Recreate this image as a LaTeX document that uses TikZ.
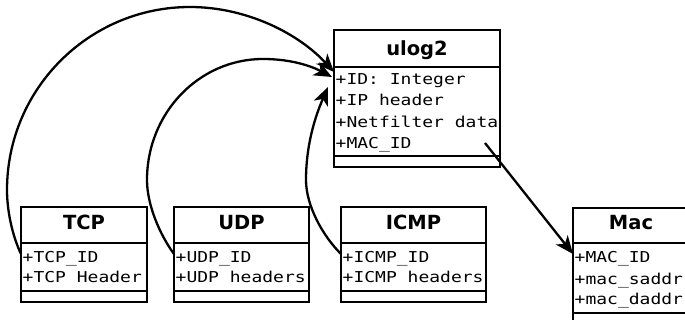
\documentclass[tikz,border=0pt]{standalone}
\usepackage{fontspec}
\usetikzlibrary{arrows.meta}
\newfontfamily\titlefont{DejaVu Sans}[BoldFont={DejaVu Sans Bold}]
\newfontfamily\attrfontfam{DejaVu Sans Mono}[FakeStretch=1.2]
\newcommand{\attrfont}{\attrfontfam\fontsize{15pt}{17pt}\selectfont}
\newcommand{\ttlfont}{\titlefont\bfseries\fontsize{19.5pt}{22pt}\selectfont}
\begin{document}
\begin{tikzpicture}[x=1pt,y=-1pt,
  part/.style={draw, line width=2.4pt, rectangle, inner sep=0pt, outer sep=0pt, anchor=north west},
  ttl/.style={font=\ttlfont, anchor=base, inner sep=0pt},
  attr/.style={font=\attrfont, anchor=base west, inner sep=0pt},
  assoc/.style={line width=2.3pt, -{Stealth[length=18pt,width=15pt,inset=5pt]}},
]
\useasboundingbox (0,0) rectangle (685,320);
\clip (0,0) rectangle (685,320);

% ulog2
\node[part, minimum width=166pt, minimum height=37pt] (ult) at (334,30) {};
\node[part, minimum width=166pt, minimum height=89pt] (ula) at (334,67) {};
\node[part, minimum width=166pt, minimum height=11pt] (ulo) at (334,156) {};
\node[ttl] (ultt) at (417,56) {ulog2};
\node[attr] (ul1) at (335.5,85) {+ID: Integer};
\node[attr] (ul2) at (335.5,106) {+IP header};
\node[attr] (ul3) at (335.5,127.5) {+Netfilter data};
\node[attr] (ul4) at (335.5,148.5) {+MAC\_ID};

% TCP
\node[part, minimum width=126pt, minimum height=36pt] (tcpt) at (21,207) {};
\node[part, minimum width=126pt, minimum height=48pt] (tcpa) at (21,243) {};
\node[part, minimum width=126pt, minimum height=11pt] (tcpo) at (21,291) {};
\node[ttl] (tcptt) at (84,230) {TCP};
\node[attr] (tcp1) at (22.5,262) {+TCP\_ID};
\node[attr] (tcp2) at (22.5,283) {+TCP Header};

% UDP
\node[part, minimum width=135pt, minimum height=36pt] (udpt) at (174,207) {};
\node[part, minimum width=135pt, minimum height=48pt] (udpa) at (174,243) {};
\node[part, minimum width=135pt, minimum height=11pt] (udpo) at (174,291) {};
\node[ttl] (udptt) at (241.5,230) {UDP};
\node[attr] (udp1) at (175.5,262) {+UDP\_ID};
\node[attr] (udp2) at (175.5,283) {+UDP headers};

% ICMP
\node[part, minimum width=145pt, minimum height=36pt] (icmpt) at (341,207) {};
\node[part, minimum width=145pt, minimum height=48pt] (icmpa) at (341,243) {};
\node[part, minimum width=145pt, minimum height=11pt] (icmpo) at (341,291) {};
\node[ttl] (icmptt) at (413.5,230) {ICMP};
\node[attr] (icmp1) at (342.5,262) {+ICMP\_ID};
\node[attr] (icmp2) at (342.5,283) {+ICMP headers};

% Mac
\node[part, minimum width=116pt, minimum height=35pt] (mact) at (573,208) {};
\node[part, minimum width=116pt, minimum height=70pt] (maca) at (573,243) {};
\node[part, minimum width=116pt, minimum height=11pt] (maco) at (573,313) {};
\node[ttl] (mactt) at (631,230) {Mac};
\node[attr] (mac1) at (574.5,263) {+MAC\_ID};
\node[attr] (mac2) at (574.5,284) {+mac\_saddr};
\node[attr] (mac3) at (574.5,305) {+mac\_daddr};

\coordinate (macsrc) at (485,143);

% connectors
\draw[assoc] ([yshift=-11pt]tcpa.north west) .. controls (12,235) and (7,210) .. (7,190)
  .. controls (7,89) and (89,7) .. (190,7)
  .. controls (246,7) and (298,33) .. ([yshift=-5pt]ula.north west);
\draw[assoc] ([yshift=-11pt]udpa.north west) .. controls (160,235) and (147,205) .. (147,180)
  .. controls (147,113) and (199,59) .. (263,59)
  .. controls (293,59) and (313,67) .. ([xshift=-2pt,yshift=-10pt]ula.north west);
\draw[assoc] ([yshift=-11pt]icmpa.north west) .. controls (322,235) and (306,205) .. (306,180)
  .. controls (306,140) and (318,110) .. ([xshift=-6pt,yshift=-20pt]ula.north west);
\draw[assoc] (macsrc) -- ([yshift=-11pt]maca.north west);
\end{tikzpicture}
\end{document}
